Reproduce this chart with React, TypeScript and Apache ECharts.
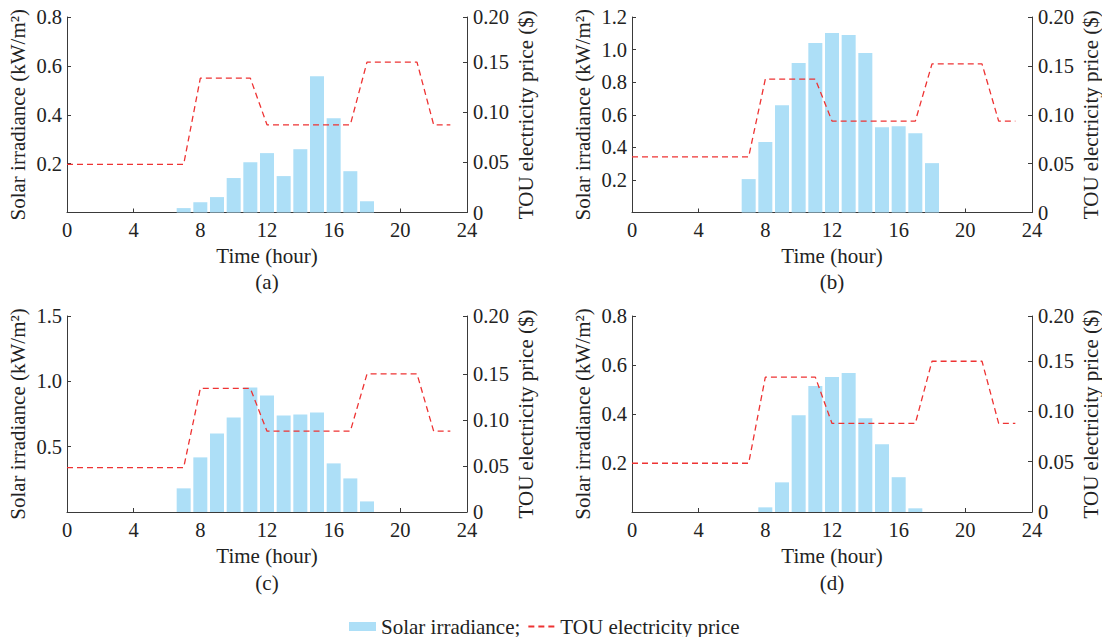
import React, { useEffect, useRef } from "react";
import * as echarts from "echarts";

const hours = [0, 1, 2, 3, 4, 5, 6, 7, 8, 9, 10, 11, 12, 13, 14, 15, 16, 17, 18, 19, 20, 21, 22, 23];

const solarA = [0, 0, 0, 0, 0, 0, 0, 0.018, 0.042, 0.063, 0.141, 0.206, 0.243, 0.149, 0.259, 0.558, 0.386, 0.169, 0.046, 0, 0, 0, 0, 0];
const solarB = [0, 0, 0, 0, 0, 0, 0, 0.205, 0.432, 0.659, 0.917, 1.04, 1.102, 1.089, 0.979, 0.524, 0.53, 0.487, 0.303, 0, 0, 0, 0, 0];
const solarC = [0, 0, 0, 0, 0, 0, 0, 0.181, 0.418, 0.601, 0.723, 0.952, 0.891, 0.738, 0.746, 0.761, 0.372, 0.257, 0.081, 0, 0, 0, 0, 0];
const solarD = [0, 0, 0, 0, 0, 0, 0, 0, 0.019, 0.121, 0.395, 0.514, 0.551, 0.567, 0.383, 0.277, 0.142, 0.015, 0, 0, 0, 0, 0, 0];

const priceA = [0.048, 0.048, 0.048, 0.048, 0.048, 0.048, 0.048, 0.048, 0.134, 0.134, 0.134, 0.134, 0.0875, 0.0875, 0.0875, 0.0875, 0.0875, 0.0875, 0.15, 0.15, 0.15, 0.15, 0.0875, 0.0875];
const priceB = [0.057, 0.057, 0.057, 0.057, 0.057, 0.057, 0.057, 0.057, 0.1365, 0.1365, 0.1365, 0.1365, 0.0935, 0.0935, 0.0935, 0.0935, 0.0935, 0.0935, 0.152, 0.152, 0.152, 0.152, 0.0935, 0.0935];
const priceC = [0.0483, 0.0483, 0.0483, 0.0483, 0.0483, 0.0483, 0.0483, 0.0483, 0.1343, 0.1343, 0.1343, 0.1343, 0.0878, 0.0878, 0.0878, 0.0878, 0.0878, 0.0878, 0.15, 0.15, 0.15, 0.15, 0.0878, 0.0878];
const priceD = [0.0485, 0.0485, 0.0485, 0.0485, 0.0485, 0.0485, 0.0485, 0.0485, 0.1342, 0.1342, 0.1342, 0.1342, 0.0881, 0.0881, 0.0881, 0.0881, 0.0881, 0.0881, 0.15, 0.15, 0.15, 0.15, 0.0881, 0.0881];

const panelLabels = ["(a)", "(b)", "(c)", "(d)"];
const leftMax = [0.8, 1.2, 1.5, 0.8];
const leftInterval = [0.2, 0.2, 0.5, 0.2];
const rightMax = [0.195, 0.2, 0.213, 0.195];
const rightTicks = [0, 0.05, 0.1, 0.15];
const rightTopLabel = "0.20";

const xName = "Time (hour)";
const leftName = "Solar irradiance (kW/m²)";
const rightName = "TOU electricity price ($)";
const solarName = "Solar irradiance";
const priceName = "TOU electricity price";

const solarSets = [solarA, solarB, solarC, solarD];
const priceSets = [priceA, priceB, priceC, priceD];

const FONT = "Liberation Serif";
const AXIS_COLOR = "#3a3a3a";
const TEXT_COLOR = "#222222";
const BAR_COLOR = "#addff7";
const LINE_COLOR = "#ee3333";

const grids = [
  { left: 67, top: 17, width: 400, height: 195.5 },
  { left: 632, top: 17, width: 400, height: 195.5 },
  { left: 67, top: 316, width: 400, height: 196 },
  { left: 632, top: 316, width: 400, height: 196 },
];

export default function App() {
  const ref = useRef<HTMLDivElement>(null);
  useEffect(() => {
    if (!ref.current) return;
    const chart = echarts.init(ref.current, undefined, { renderer: "svg" });

    const xAxes = grids.map((_, i) => ({
      type: "value",
      gridIndex: i,
      min: 0,
      max: 24,
      interval: 4,
      name: xName,
      nameLocation: "middle",
      nameGap: 33,
      nameTextStyle: { fontFamily: FONT, fontSize: 21, color: TEXT_COLOR },
      axisLine: { show: true, lineStyle: { color: AXIS_COLOR, width: 1 } },
      axisTick: { show: true, inside: true, length: 4, lineStyle: { color: AXIS_COLOR } },
      axisLabel: { fontFamily: FONT, fontSize: 20.5, color: TEXT_COLOR, margin: 7 },
      splitLine: { show: false },
    }));

    const yAxes: any[] = [];
    grids.forEach((_, i) => {
      yAxes.push({
        type: "value",
        gridIndex: i,
        position: "left",
        min: 0,
        max: leftMax[i],
        interval: leftInterval[i],
        name: leftName,
        nameLocation: "middle",
        nameRotate: 90,
        nameGap: 39,
        nameTextStyle: { fontFamily: FONT, fontSize: 21, color: TEXT_COLOR },
        axisLine: { show: true, lineStyle: { color: AXIS_COLOR, width: 1 } },
        axisTick: { show: true, inside: true, length: 4, lineStyle: { color: AXIS_COLOR } },
        axisLabel: {
          fontFamily: FONT,
          fontSize: 20.5,
          color: TEXT_COLOR,
          margin: 5,
          formatter: (v: number) => (v === 0 ? "" : v.toFixed(1)),
        },
        splitLine: { show: false },
      });
      const custom = [...rightTicks, rightMax[i]];
      yAxes.push({
        type: "value",
        gridIndex: i,
        position: "right",
        min: 0,
        max: rightMax[i],
        interval: 0.05,
        name: rightName,
        nameLocation: "middle",
        nameRotate: 90,
        nameGap: 48,
        nameTextStyle: { fontFamily: FONT, fontSize: 21, color: TEXT_COLOR },
        axisLine: { show: true, lineStyle: { color: AXIS_COLOR, width: 1 } },
        axisTick: {
          show: true,
          inside: true,
          length: 4,
          customValues: custom,
          lineStyle: { color: AXIS_COLOR },
        },
        axisLabel: {
          fontFamily: FONT,
          fontSize: 20.5,
          color: TEXT_COLOR,
          margin: 6,
          customValues: custom,
          formatter: (v: number) => (v === 0 ? "0" : v > 0.17 ? rightTopLabel : v.toFixed(2)),
        },
        splitLine: { show: false },
      });
    });

    const series: any[] = [];
    grids.forEach((_, i) => {
      series.push({
        name: solarName,
        type: "bar",
        xAxisIndex: i,
        yAxisIndex: 2 * i,
        barWidth: 14,
        itemStyle: { color: BAR_COLOR },
        data: hours.map((h, k) => [h, solarSets[i][k]]),
        z: 2,
      });
      series.push({
        name: priceName,
        type: "line",
        xAxisIndex: i,
        yAxisIndex: 2 * i + 1,
        symbol: "none",
        lineStyle: { color: LINE_COLOR, width: 1.3, type: [6, 4] },
        itemStyle: { color: LINE_COLOR },
        data: hours.map((h, k) => [h, priceSets[i][k]]),
        z: 3,
      });
    });

    const graphics = grids.map((g, i) => ({
      type: "text",
      x: g.left + g.width / 2,
      y: i < 2 ? 282 : 583,
      style: {
        text: panelLabels[i],
        fontFamily: FONT,
        fontSize: 21,
        fill: TEXT_COLOR,
        textAlign: "center",
        textVerticalAlign: "middle",
      },
    }));

    chart.setOption({
      animation: false,
      backgroundColor: "#ffffff",
      grid: grids.map((g) => ({ ...g, containLabel: false })),
      xAxis: xAxes,
      yAxis: yAxes,
      legend: {
        left: 344,
        top: 611,
        itemWidth: 27,
        itemHeight: 9,
        itemGap: 7,
        textStyle: { fontFamily: FONT, fontSize: 21, color: TEXT_COLOR },
        formatter: (name: string) => (name === solarName ? name + ";" : name),
        data: [
          { name: solarName, icon: "rect" },
          { name: priceName, itemStyle: { opacity: 0 } },
        ],
      },
      graphic: graphics,
      series,
    });

    return () => chart.dispose();
  }, []);

  return (
    <div
      ref={ref}
      style={{ position: "fixed", left: 0, top: 0, width: 1102, height: 637, background: "#fff" }}
    />
  );
}
